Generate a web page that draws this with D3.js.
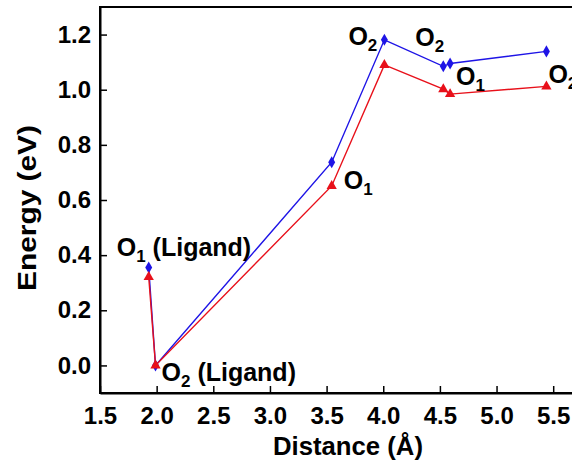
<!DOCTYPE html>
<html>
<head>
<meta charset="utf-8">
<script src="https://cdn.jsdelivr.net/npm/d3@7"></script>
<style>
  body { margin: 0; background: #fff; }
  svg text { font-family: 'Liberation Sans', Arial, sans-serif; font-weight: bold; fill: #000; }
</style>
</head>
<body>
<div id="chart"></div>
<script>
// distances (A) for each configuration
const distances = [1.93, 1.99, 3.545, 4.01, 4.53, 4.59, 5.44];
// energies, blue diamonds and red triangles
const blueEnergy = [0.355, 0.0, 0.737, 1.181, 1.085, 1.095, 1.139];
const redEnergy = [0.321, 0.0, 0.651, 1.090, 1.002, 0.984, 1.012];

const xTicks = [1.5, 2.0, 2.5, 3.0, 3.5, 4.0, 4.5, 5.0, 5.5];
const yTicks = [0.0, 0.2, 0.4, 0.6, 0.8, 1.0, 1.2];

// point labels: main text, subscript, trailing text, anchored at a data point
const labels = [
  { main: 'O', sub: '1', rest: ' (Ligand)', x: 1.93, y: 0.355, dx: -32, dy: -12 },
  { main: 'O', sub: '2', rest: ' (Ligand)', x: 1.99, y: 0.0, dx: 6, dy: 16 },
  { main: 'O', sub: '1', rest: '', x: 3.545, y: 0.651, dx: 12, dy: 3 },
  { main: 'O', sub: '2', rest: '', x: 4.01, y: 1.181, dx: -36, dy: 5 },
  { main: 'O', sub: '2', rest: '', x: 4.53, y: 1.085, dx: -28, dy: -20 },
  { main: 'O', sub: '1', rest: '', x: 4.59, y: 1.095, dx: 6, dy: 21 },
  { main: 'O', sub: '2', rest: '', x: 5.44, y: 1.139, dx: 2, dy: 32 }
];

const width = 572, height = 464;
const margin = { left: 100, top: 7, bottom: 71 };

const svg = d3.select('#chart').append('svg')
  .attr('width', width).attr('height', height);

const x = d3.scaleLinear().domain([1.5, 5.75]).range([margin.left, margin.left + 4.25 * 113.3]);
const y = d3.scaleLinear().domain([-0.1, 1.3]).range([height - margin.bottom, margin.top]);

// frame (top + right borders, right one falls outside the window)
svg.append('rect')
  .attr('x', x(1.5)).attr('y', y(1.3))
  .attr('width', x(5.75) - x(1.5)).attr('height', y(-0.1) - y(1.3))
  .attr('fill', 'none').attr('stroke', '#000').attr('stroke-width', 2);

// axes with inward ticks
const xAxis = svg.append('g')
  .attr('transform', `translate(0,${y(-0.1)})`)
  .call(d3.axisBottom(x).tickValues(xTicks).tickFormat(d3.format('.1f')).tickSizeInner(-7).tickSizeOuter(0).tickPadding(14));
const yAxis = svg.append('g')
  .attr('transform', `translate(${x(1.5)},0)`)
  .call(d3.axisLeft(y).tickValues(yTicks).tickFormat(d3.format('.1f')).tickSizeInner(-7).tickSizeOuter(0).tickPadding(9));

[xAxis, yAxis].forEach((g) => {
  g.select('.domain').attr('stroke-width', 2);
  g.selectAll('.tick line').attr('stroke-width', 1.5);
  g.selectAll('.tick text').style('font-size', '24px').style('font-family', "'Liberation Sans', Arial, sans-serif").style('font-weight', 'bold');
});

// axis titles
svg.append('text')
  .attr('x', 348).attr('y', 455)
  .attr('text-anchor', 'middle')
  .style('font-size', '25px')
  .attr('textLength', 150).attr('lengthAdjust', 'spacingAndGlyphs')
  .text('Distance (Å)');

svg.append('text')
  .attr('transform', 'translate(36,208) rotate(-90)')
  .attr('text-anchor', 'middle')
  .style('font-size', '25px')
  .attr('textLength', 166).attr('lengthAdjust', 'spacingAndGlyphs')
  .text('Energy (eV)');

// series
const series = [
  { values: blueEnergy, color: '#1e14e6', symbol: d3.symbolDiamond, size: 42 },
  { values: redEnergy, color: '#e8101a', symbol: d3.symbolTriangle, size: 46 }
];

const line = d3.line().x((d) => x(d[0])).y((d) => y(d[1]));

series.forEach((s) => {
  const pts = distances.map((d, i) => [d, s.values[i]]);
  svg.append('path')
    .attr('d', line(pts))
    .attr('fill', 'none')
    .attr('stroke', s.color)
    .attr('stroke-width', 1.4);
  svg.selectAll(null)
    .data(pts)
    .enter()
    .append('path')
    .attr('transform', (d) => `translate(${x(d[0])},${y(d[1])})`)
    .attr('d', d3.symbol().type(s.symbol).size(s.size))
    .attr('fill', s.color);
});

// labels
labels.forEach((l) => {
  const t = svg.append('text')
    .attr('x', x(l.x) + l.dx)
    .attr('y', y(l.y) + l.dy)
    .style('font-size', '25px');
  t.append('tspan').text(l.main);
  t.append('tspan').attr('dy', 6).style('font-size', '17px').text(l.sub);
  if (l.rest) t.append('tspan').attr('dy', -6).text(l.rest);
});
</script>
</body>
</html>
